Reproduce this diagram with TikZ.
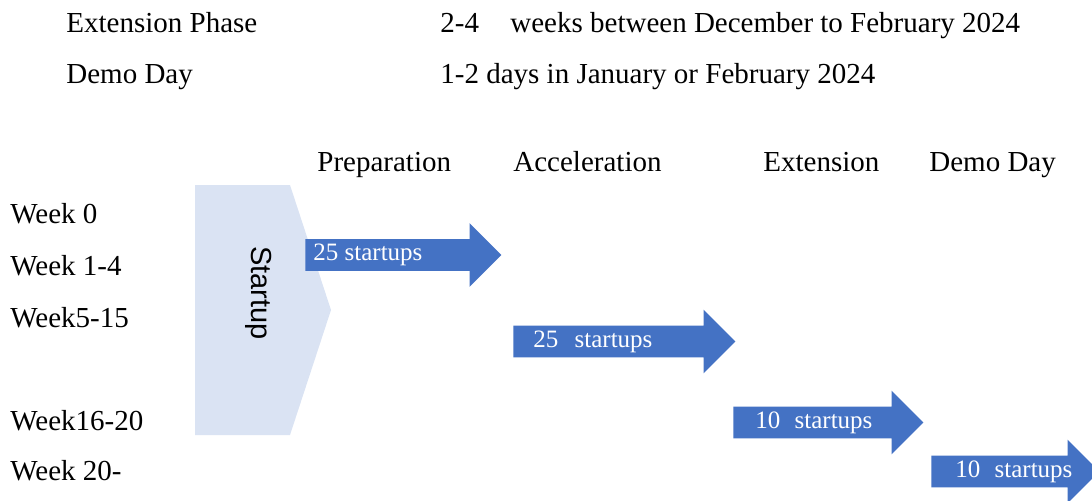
\documentclass[tikz,border=0pt]{standalone}
\usepackage{fontspec}
\setmainfont{Liberation Serif}
\newfontfamily\boxfont{Liberation Sans}
\usetikzlibrary{positioning,shapes.arrows}
\definecolor{phaseblue}{HTML}{4472C4}
\definecolor{paleblue}{HTML}{DAE3F3}

\begin{document}
\begin{tikzpicture}[
    x=0.5pt, y=-0.5pt,
    font=\fontsize{14.5}{17}\selectfont,
    txt/.style={anchor=base west, inner sep=0pt},
    phase/.style={single arrow, fill=phaseblue, draw=none, inner sep=0pt,
      text height=15.5pt, text depth=0pt, minimum width=1pt,
      single arrow head extend=8pt, single arrow tip angle=90, anchor=tail},
    count/.style={text=white, inner sep=0pt, font=\fontsize{12.5}{15}\selectfont}
  ]
  \useasboundingbox (0,0) rectangle (1092,500);

  % schedule notes
  \node[txt] (ext)   at (66,32)  {Extension Phase};
  \node[txt] (extn)  at (440,32) {2-4};
  \node[txt] (extw)  at (510,32) {weeks between December to February 2024};
  \node[txt] (demo)  at (66,83)  {Demo Day};
  \node[txt] (demod) at (440,83) {1-2 days in January or February 2024};

  % phase headers
  \node[txt] (hprep) at (317,171) {Preparation};
  \node[txt] (hacc)  at (513,171) {Acceleration};
  \node[txt] (hext)  at (763,171) {Extension};
  \node[txt] (hdemo) at (929,171) {Demo Day};

  % week rows
  \foreach \y/\lab [count=\i] in {223/Week 0, 275/Week 1-4, 327/Week5-15,
      430/Week16-20, 480/Week 20-}
    \node[txt] (w\i) at (10,\y) {\lab};

  % startup pentagon
  \fill[paleblue] (195,185) -- (290,185) -- (331,310) -- (290,435)
    -- (195,435) -- cycle;
  \node[rotate=-90, font=\boxfont\fontsize{14.5}{17}\selectfont] (start)
    at (259,293) {Startup};

  % phase arrows
  \node[phase, minimum height=98pt]  (a1) at (305,255)   {};
  \node[phase, minimum height=111pt] (a2) at (513,341.5) {};
  \node[phase, minimum height=95pt]  (a3) at (733,422.5) {};
  \node[phase, minimum height=84pt]  (a4) at (931,471.5) {};

  \node[count, right=4pt of a1.tail]  (c1) {25 startups};
  \node[count, right=10pt of a2.tail] (c2) {25\hspace{5pt} startups};
  \node[count, right=11pt of a3.tail] (c3) {10\hspace{4pt} startups};
  \node[count, right=12pt of a4.tail] (c4) {10\hspace{4pt} startups};
\end{tikzpicture}
\end{document}
